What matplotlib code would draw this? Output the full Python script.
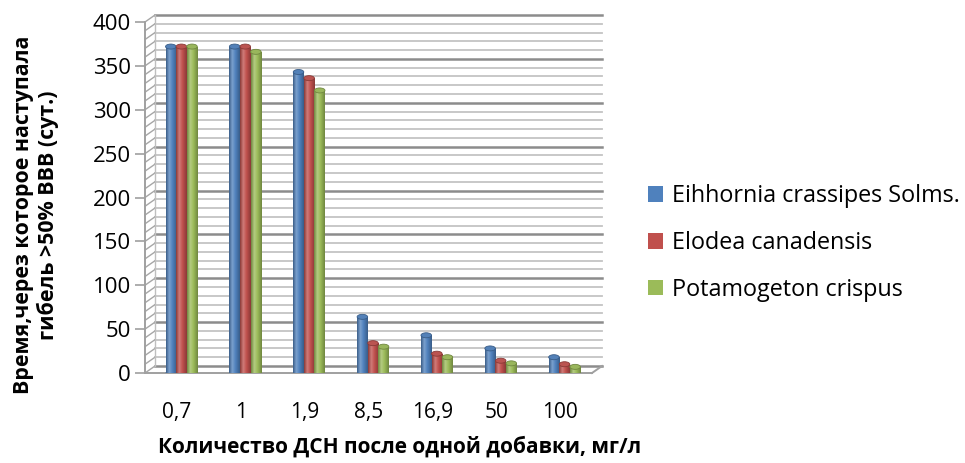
import matplotlib
matplotlib.use("Agg")
import matplotlib.pyplot as plt
import matplotlib.transforms as mtransforms
from matplotlib.patches import Rectangle, Ellipse, Patch
from matplotlib.colors import LinearSegmentedColormap, to_rgb
import numpy as np

plt.rcParams['font.family'] = ['Open Sans', 'DejaVu Sans']

categories = ["0,7", "1", "1,9", "8,5", "16,9", "50", "100"]
series_names = ["Eihhornia crassipes Solms.", "Elodea canadensis", "Potamogeton crispus"]
eihhornia = [372, 372, 343, 64, 43, 28, 18]
elodea = [372, 372, 336, 34, 22, 14, 10]
potamogeton = [372, 366, 322, 30, 18, 11, 7]
series_values = [eihhornia, elodea, potamogeton]
colors = ["#4F81BD", "#C0504D", "#9BBB59"]
yticks = [0, 50, 100, 150, 200, 250, 300, 350, 400]
xlabel = "Количество ДСН после одной добавки, мг/л"
ylabel = "Время,через которое наступала\nгибель >50% ВВВ (сут.)"

W, H = 965, 463
fig = plt.figure(figsize=(W / 100, H / 100), dpi=100)

def fx(px):
    return px / W

def fy(py):
    return 1 - py / H

# main (front plane) axes
left_px, right_px, top_px, bot_px = 145, 592, 22, 373
ax = fig.add_axes([fx(left_px), fy(bot_px), fx(right_px - left_px), (bot_px - top_px) / H])
ax.patch.set_alpha(0)
fx0, fx1 = -0.5, len(categories) - 0.5
ax.set_xlim(fx0, fx1)
ax.set_ylim(0, 400)

off = mtransforms.ScaledTranslation(10 / 100, 7 / 100, fig.dpi_scale_trans)
back = ax.transData + off
inv = ax.transData.inverted()

# floor front edge
ax.plot([fx0, fx1], [0, 0], color="#a0a0a0", lw=1.4, zorder=1, clip_on=False)
# back wall gridlines and side wall
for v in range(0, 401, 10):
    major = (v % 50 == 0)
    c = "#8c8c8c" if major else "#c4c4c4"
    lw = 1.8 if major else 1.3
    ax.plot([fx0, fx1], [v, v], transform=back, color=c, lw=lw, zorder=0.5, clip_on=False)
    d1 = inv.transform(back.transform((fx0, v)))
    ax.plot([fx0, d1[0]], [v, d1[1]], color="#a6a6a6", lw=1.0, zorder=0.6, clip_on=False)

pr = inv.transform(back.transform((fx1, 0)))
ax.plot([fx1, pr[0]], [0, pr[1]], color="#a0a0a0", lw=1.4, zorder=1, clip_on=False)
pl0 = inv.transform(back.transform((fx0, 0)))
pl1 = inv.transform(back.transform((fx0, 400)))
ax.plot([pl0[0], pl1[0]], [pl0[1], pl1[1]], color="#bfbfbf", lw=1.0, zorder=0.6, clip_on=False)

# bars (cylinders)
bw = 0.165
step = 0.166
shift = 0.07
ell_h = 5 * 400 / (bot_px - top_px)
grad = np.linspace(0, 1, 64).reshape(1, -1)
for k, (vals, col) in enumerate(zip(series_values, colors)):
    base = np.array(to_rgb(col))
    dark = base * 0.72
    light = np.clip(base + (1 - base) * 0.25, 0, 1)
    cmap = LinearSegmentedColormap.from_list(
        f"c{k}", [(0, dark), (0.3, light), (0.6, base), (1, dark)])
    for i, v in enumerate(vals):
        xc = i + shift + (k - 1) * step
        x0 = xc - bw / 2
        rect = Rectangle((x0, 0), bw, v, facecolor=col, edgecolor="none", zorder=3 + k * 0.01)
        ax.add_patch(rect)
        im = ax.imshow(grad, extent=(x0, x0 + bw, 0, v), aspect="auto", cmap=cmap,
                       zorder=3.1 + k * 0.01, interpolation="bilinear")
        im.set_clip_path(rect)
        bottom = Ellipse((xc, 0), bw, ell_h, facecolor=tuple(base * 0.8), edgecolor="none",
                         zorder=2.9)
        ax.add_patch(bottom)
        top = Ellipse((xc, v), bw, ell_h, facecolor=tuple(np.clip(base * 0.92 + 0.04, 0, 1)),
                      edgecolor=tuple(dark), lw=0.6, zorder=3.2 + k * 0.01)
        ax.add_patch(top)

ax.set_xlim(fx0, fx1)
ax.set_ylim(0, 400)

for s in ["top", "right", "bottom"]:
    ax.spines[s].set_visible(False)
ax.spines["left"].set_color("#a0a0a0")
ax.spines["left"].set_linewidth(1.4)
ax.set_xticks(range(len(categories)))
ax.set_xticklabels(categories)
ax.tick_params(axis="x", length=0, labelsize=15, pad=21)
ax.set_yticks(yticks)
ax.tick_params(axis="y", length=7, width=1.2, color="#a0a0a0", direction="out",
               labelsize=16, pad=3, labelcolor="black")

fig.text(fx(400), fy(447), xlabel, ha="center", va="center", fontsize=15, fontweight="bold")
fig.text(fx(36), fy(215), ylabel, ha="center", va="center", rotation=90, fontsize=15.4,
         fontweight="bold", linespacing=1.15, multialignment="center")

handles = [Patch(facecolor=c, edgecolor="none") for c in colors]
fig.legend(handles, series_names, loc="center left", bbox_to_anchor=(fx(640), fy(243)),
           frameon=False, fontsize=16.8, handlelength=0.64, handleheight=0.64,
           handletextpad=0.39, labelspacing=0.98, borderaxespad=0, borderpad=0.35)

fig.savefig("out.png", dpi=100)
